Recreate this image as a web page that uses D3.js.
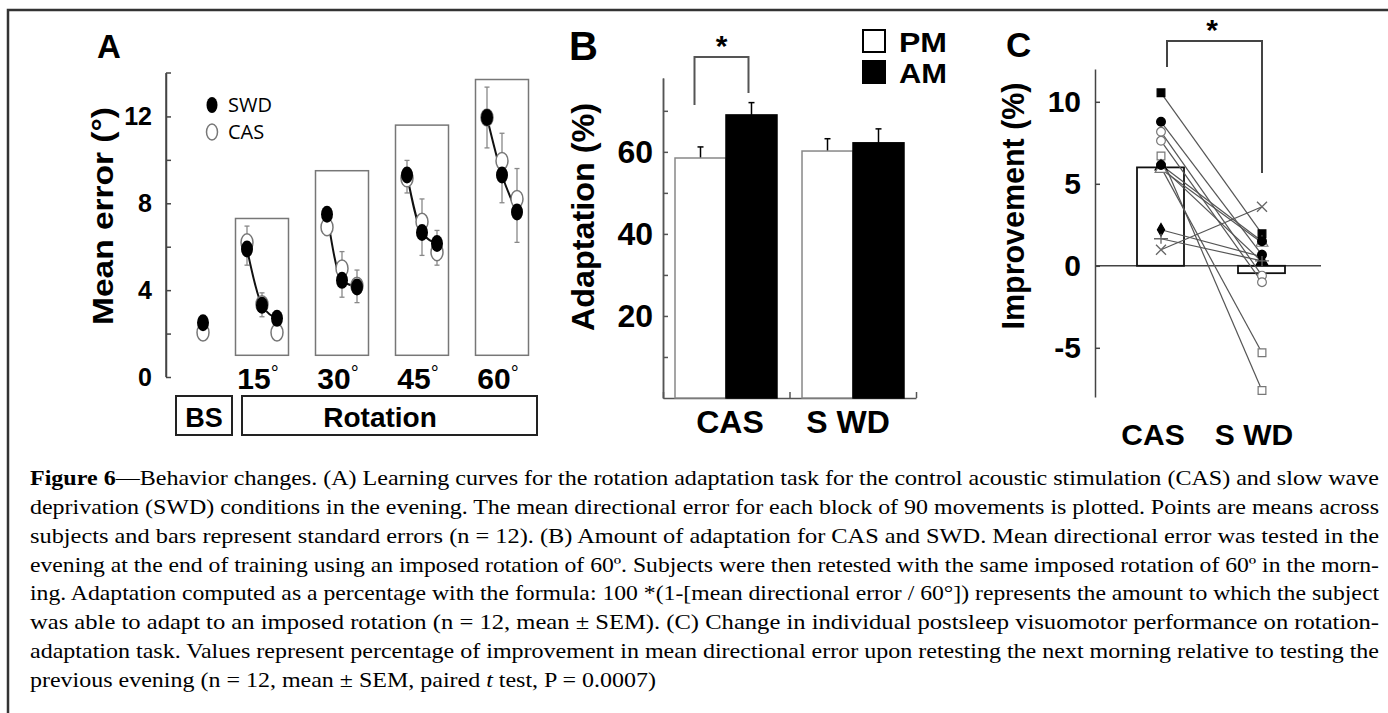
<!DOCTYPE html>
<html><head><meta charset="utf-8">
<script src="https://cdn.jsdelivr.net/npm/d3@7"></script>
<style>body{margin:0;background:#fff}svg{display:block}</style>
</head><body>
<svg id="c" width="1388" height="713"></svg>
<script>
// ---------- Panel A data ----------
const blocksA = ["BS", "15", "30", "45", "60"];
const swdA = [[2.5], [5.9, 3.3, 2.7], [7.5, 4.45, 4.15], [9.3, 6.65, 6.15], [11.95, 9.3, 7.6]];
const casA = [[2.05], [6.2, 3.35, 2.05], [6.9, 5.0, 4.2], [9.15, 7.15, 5.75], [11.95, 9.95, 8.2]];
const semA = [[0.3], [0.9, 0.55, 0.4], [0.6, 1.05, 0.75], [0.75, 1.3, 0.8], [1.4, 1.6, 1.7]];
const boxTopA = [null, 7.3, 9.5, 11.6, 13.7];
const yTicksA = [0, 4, 8, 12];
const yMinorA = [2, 6, 10];
const legendA = ["SWD", "CAS"];

// ---------- Panel B data ----------
const catsB = ["CAS", "S WD"];
const groupsB = ["PM", "AM"];
const pmB = [58.5, 60.2];
const amB = [69.0, 62.2];
const pmErrB = [2.7, 3.0];
const amErrB = [3.0, 3.4];
const yTicksB = [20, 40, 60];
const yMinorB = [10, 30, 50, 70];

// ---------- Panel C data ----------
const catsC = ["CAS", "S WD"];
const meanC = [6.0, -0.45];
const casC = [10.55, 8.78, 8.17, 7.62, 6.7, 6.0, 6.05, 5.9, 6.15, 2.2, 1.65, 0.98];
const swdC = [1.95, 0.67, -0.6, -1.0, -7.6, -5.3, 0.25, 1.4, 1.5, 0.55, 0.3, 3.6];
const yTicksC = [-5, 0, 5, 10];

// ---------- Caption ----------
const captionLines = [
  [["Figure 6", "b"], ["—Behavior changes. (A) Learning curves for the rotation adaptation task for the control acoustic stimulation (CAS) and slow wave", ""]],
  [["deprivation (SWD) conditions in the evening. The mean directional error for each block of 90 movements is plotted. Points are means across", ""]],
  [["subjects and bars represent standard errors (n = 12). (B) Amount of adaptation for CAS and SWD. Mean directional error was tested in the", ""]],
  [["evening at the end of training using an imposed rotation of 60º. Subjects were then retested with the same imposed rotation of 60º in the morn-", ""]],
  [["ing. Adaptation computed as a percentage with the formula: 100 *(1-[mean directional error / 60°]) represents the amount to which the subject", ""]],
  [["was able to adapt to an imposed rotation (n = 12, mean ± SEM). (C) Change in individual postsleep visuomotor performance on rotation-", ""]],
  [["adaptation task. Values represent percentage of improvement in mean directional error upon retesting the next morning relative to testing the", ""]],
  [["previous evening (n = 12, mean ± SEM, paired ", ""], ["t", "i"], [" test, P = 0.0007)", ""]]
];

// ================= drawing =================
const svg = d3.select("#c");
const SANS = "'Liberation Sans', Arial, sans-serif";
svg.append("rect").attr("width", 1388).attr("height", 713).attr("fill", "#fff");
svg.append("path").attr("d", "M8,713 V10 H1388").attr("fill", "none").attr("stroke", "#333").attr("stroke-width", 2.5);

function styleAxis(g, col) {
  g.selectAll("path.domain").attr("stroke", col).attr("stroke-width", 1.5);
  g.selectAll(".tick line").attr("stroke", col).attr("stroke-width", 1.5);
  g.selectAll("text").attr("font-family", SANS).attr("font-weight", "bold").attr("fill", "#000");
}

// ---------- Panel A ----------
const yA = d3.scaleLinear().domain([0, 14]).range([377, 73]);
const xBlock = d3.scaleLinear().domain([1, 4]).range([262, 502]);
const blockX = i => i === 0 ? 203 : xBlock(i);
const ptX = (i, j, n) => blockX(i) + (j - (n - 1) / 2) * 15;

const gA = svg.append("g");
const axA = gA.append("g").attr("transform", "translate(166,0)")
  .call(d3.axisLeft(yA).tickValues(yTicksA).tickSizeInner(-5).tickSizeOuter(0).tickPadding(14));
axA.selectAll("text").attr("font-size", 25);
styleAxis(axA, "#444");
const axAm = gA.append("g").attr("transform", "translate(166,0)")
  .call(d3.axisLeft(yA).tickValues(yMinorA).tickSizeInner(-5).tickSizeOuter(0).tickFormat(""));
styleAxis(axAm, "#444");
axAm.select("path.domain").remove();
gA.append("line").attr("x1", 166).attr("x2", 166).attr("y1", yA(14)).attr("y2", yA(0)).attr("stroke", "#444").attr("stroke-width", 1.5);
gA.append("line").attr("x1", 166).attr("x2", 171).attr("y1", yA(14)).attr("y2", yA(14)).attr("stroke", "#444").attr("stroke-width", 1.5);

blocksA.forEach((b, i) => {
  if (boxTopA[i] == null) return;
  gA.append("rect").attr("x", blockX(i) - 26.5).attr("width", 53)
    .attr("y", yA(boxTopA[i])).attr("height", yA(1) - yA(boxTopA[i]))
    .attr("fill", "none").attr("stroke", "#777").attr("stroke-width", 1.5);
  const t = gA.append("text").attr("x", blockX(i) - 4).attr("y", 389).attr("text-anchor", "middle")
    .attr("font-family", SANS).attr("font-weight", "bold").attr("font-size", 30);
  t.append("tspan").text(b);
  t.append("tspan").text("°").attr("font-size", 20).attr("dy", -9).attr("font-weight", "normal");
});
swdA.forEach((arr, i) => arr.forEach((v, j) => {
  const x = ptX(i, j, arr.length);
  const c = (v + casA[i][j]) / 2, e = semA[i][j];
  gA.append("line").attr("x1", x).attr("x2", x).attr("y1", yA(c + e)).attr("y2", yA(c - e)).attr("stroke", "#888").attr("stroke-width", 1.3);
  [c + e, c - e].forEach(w => gA.append("line").attr("x1", x - 2.5).attr("x2", x + 2.5).attr("y1", yA(w)).attr("y2", yA(w)).attr("stroke", "#888").attr("stroke-width", 1.3));
}));
const lineA = d3.line().x(d => d[0]).y(d => yA(d[1])).curve(d3.curveMonotoneX);
swdA.forEach((arr, i) => {
  if (arr.length < 2) return;
  gA.append("path").attr("d", lineA(arr.map((v, j) => [ptX(i, j, arr.length), v])))
    .attr("fill", "none").attr("stroke", "#111").attr("stroke-width", 2);
});
casA.forEach((arr, i) => arr.forEach((v, j) => {
  gA.append("ellipse").attr("cx", ptX(i, j, arr.length)).attr("cy", yA(v)).attr("rx", 6).attr("ry", 8.5)
    .attr("fill", "#fff").attr("stroke", "#777").attr("stroke-width", 1.5);
}));
swdA.forEach((arr, i) => arr.forEach((v, j) => {
  gA.append("ellipse").attr("cx", ptX(i, j, arr.length)).attr("cy", yA(v)).attr("rx", 6).attr("ry", 8.5)
    .attr("fill", "#000");
}));
legendA.forEach((name, k) => {
  const y = 105 + k * 27;
  gA.append("ellipse").attr("cx", 212).attr("cy", y).attr("rx", 5.5).attr("ry", 8)
    .attr("fill", k === 0 ? "#000" : "#fff").attr("stroke", k === 0 ? "none" : "#777").attr("stroke-width", 1.5);
  gA.append("text").attr("x", 228).attr("y", y + 7).text(name)
    .attr("font-family", "'Open Sans', 'Noto Sans', sans-serif").attr("font-size", 20);
});
gA.append("text").attr("x", 97).attr("y", 58).text("A").attr("font-family", SANS).attr("font-weight", "bold").attr("font-size", 33);
gA.append("text").attr("transform", "translate(113,216) rotate(-90)").attr("text-anchor", "middle")
  .text("Mean error (°)").attr("font-family", SANS).attr("font-weight", "bold").attr("font-size", 30)
  .attr("textLength", 218).attr("lengthAdjust", "spacingAndGlyphs");
gA.append("rect").attr("x", 176).attr("y", 396).attr("width", 56).attr("height", 39).attr("fill", "none").attr("stroke", "#222").attr("stroke-width", 2);
gA.append("rect").attr("x", 242).attr("y", 396).attr("width", 295).attr("height", 39).attr("fill", "none").attr("stroke", "#222").attr("stroke-width", 2);
gA.append("text").attr("x", 204).attr("y", 427).attr("text-anchor", "middle").text("BS").attr("font-family", SANS).attr("font-weight", "bold").attr("font-size", 27);
gA.append("text").attr("x", 380).attr("y", 427).attr("text-anchor", "middle").text("Rotation").attr("font-family", SANS).attr("font-weight", "bold").attr("font-size", 28);

// ---------- Panel B ----------
const yB = d3.scaleLinear().domain([0, 78]).range([398, 78]);
const xB = d3.scaleBand().domain(catsB).range([663, 916]).paddingInner(0.197).paddingOuter(0.0945);
const xSub = d3.scaleBand().domain(groupsB).range([0, xB.bandwidth()]);
const gB = svg.append("g");
const axB = gB.append("g").attr("transform", "translate(663,0)")
  .call(d3.axisLeft(yB).tickValues(yTicksB).tickSizeInner(-5).tickSizeOuter(0).tickPadding(10));
axB.selectAll("text").attr("font-size", 32);
styleAxis(axB, "#555");
const axBm = gB.append("g").attr("transform", "translate(663,0)")
  .call(d3.axisLeft(yB).tickValues(yMinorB).tickSizeInner(-5).tickSizeOuter(0).tickFormat(""));
styleAxis(axBm, "#555");
const xBl = d3.scaleLinear().domain([0, 2]).range([663, 916]);
const axBx = gB.append("g").attr("transform", "translate(0,398)")
  .call(d3.axisBottom(xBl).tickValues([0, 1, 2]).tickSizeInner(-6).tickSizeOuter(0).tickFormat(""));
styleAxis(axBx, "#555");

catsB.forEach((c, i) => {
  const x0 = xB(c);
  [[pmB[i], pmErrB[i], "PM"], [amB[i], amErrB[i], "AM"]].forEach(([v, e, g]) => {
    const x = x0 + xSub(g), w = xSub.bandwidth();
    gB.append("line").attr("x1", x + w / 2).attr("x2", x + w / 2).attr("y1", yB(v)).attr("y2", yB(v + e)).attr("stroke", "#000").attr("stroke-width", 1.5);
    gB.append("line").attr("x1", x + w / 2 - 3).attr("x2", x + w / 2 + 3).attr("y1", yB(v + e)).attr("y2", yB(v + e)).attr("stroke", "#000").attr("stroke-width", 1.5);
    gB.append("rect").attr("x", x).attr("width", w).attr("y", yB(v)).attr("height", yB(0) - yB(v))
      .attr("fill", g === "PM" ? "#fff" : "#000").attr("stroke", g === "PM" ? "#888" : "#000").attr("stroke-width", 1.5);
  });
  gB.append("text").attr("x", x0 + xB.bandwidth() / 2 + (i === 0 ? 4 : -5)).attr("y", 433).attr("text-anchor", "middle")
    .text(c).attr("font-family", SANS).attr("font-weight", "bold").attr("font-size", 32);
});
const bx1 = xB("CAS") + xSub("PM") + xSub.bandwidth() / 2 - 6, bx2 = xB("CAS") + xSub("AM") + xSub.bandwidth() / 2 - 3;
gB.append("path").attr("d", `M${bx1},105 V57 H${bx2} V93`).attr("fill", "none").attr("stroke", "#555").attr("stroke-width", 2);
gB.append("text").attr("x", (bx1 + bx2) / 2).attr("y", 56).attr("text-anchor", "middle").text("*").attr("font-family", SANS).attr("font-weight", "bold").attr("font-size", 30);
// legend B
groupsB.forEach((g, k) => {
  const y = 29 + k * 31;
  gB.append("rect").attr("x", 863).attr("y", y + 1).attr("width", 22).attr("height", 22)
    .attr("fill", k === 0 ? "#fff" : "#000").attr("stroke", "#000").attr("stroke-width", 2);
  gB.append("text").attr("x", 899).attr("y", y + 23).text(g)
    .attr("font-family", SANS).attr("font-weight", "bold").attr("font-size", 28)
    .attr("textLength", 48).attr("lengthAdjust", "spacingAndGlyphs");
});
gB.append("text").attr("x", 569).attr("y", 60).text("B").attr("font-family", SANS).attr("font-weight", "bold").attr("font-size", 40);
gB.append("text").attr("transform", "translate(594,217) rotate(-90)").attr("text-anchor", "middle")
  .text("Adaptation (%)").attr("font-family", SANS).attr("font-weight", "bold").attr("font-size", 32)
  .attr("textLength", 228).attr("lengthAdjust", "spacingAndGlyphs");

// ---------- Panel C ----------
const yC = d3.scaleLinear().domain([-8, 12]).range([397, 69]);
const xC = d3.scalePoint().domain(catsC).range([1161, 1262]);
const gC = svg.append("g");
const axC = gC.append("g").attr("transform", "translate(1095,0)")
  .call(d3.axisLeft(yC).tickValues(yTicksC).tickSizeInner(-5).tickSizeOuter(0).tickPadding(14));
axC.selectAll("text").attr("font-size", 30);
axC.selectAll(".tick text").text(d => d < 0 ? "-" + Math.abs(d) : d);
styleAxis(axC, "#444");
gC.append("line").attr("x1", 1095).attr("x2", 1321).attr("y1", yC(0)).attr("y2", yC(0)).attr("stroke", "#444").attr("stroke-width", 1.5);
catsC.forEach((c, i) => {
  const v = meanC[i];
  gC.append("rect").attr("x", xC(c) - 24).attr("width", 47).attr("y", yC(Math.max(0, v)))
    .attr("height", Math.abs(yC(v) - yC(0))).attr("fill", i === 0 ? "#fff" : "none").attr("stroke", "#111").attr("stroke-width", 1.8);
  gC.append("text").attr("x", xC(c) - 8).attr("y", 445).attr("text-anchor", "middle").text(c)
    .attr("font-family", SANS).attr("font-weight", "bold").attr("font-size", 30);
});
casC.forEach((v, k) => {
  gC.append("line").attr("x1", xC("CAS")).attr("x2", xC("S WD")).attr("y1", yC(v)).attr("y2", yC(swdC[k]))
    .attr("stroke", "#555").attr("stroke-width", 1.2);
});
const markerC = ["sqF", "ciF", "ciO", "ciO", "sqO", "sqO", "trF", "trO", "ciF", "diF", "plus", "x"];
function drawMarker(g, type, x, y) {
  const sym = {sq: d3.symbolSquare, ci: d3.symbolCircle, tr: d3.symbolTriangle, di: d3.symbolDiamond}[type.slice(0, 2)];
  if (type === "plus") {
    g.append("path").attr("d", `M${x - 7},${y} H${x + 7} M${x},${y - 5} V${y + 5}`).attr("stroke", "#666").attr("stroke-width", 1.3);
    return;
  }
  if (type === "x") {
    g.append("path").attr("d", `M${x - 5},${y - 5} L${x + 5},${y + 5} M${x - 5},${y + 5} L${x + 5},${y - 5}`).attr("stroke", "#666").attr("stroke-width", 1.3);
    return;
  }
  const filled = type.endsWith("F");
  const size = type.startsWith("di") ? 45 : 60;
  g.append("path").attr("d", d3.symbol(sym, size)()).attr("transform", `translate(${x},${y})`)
    .attr("fill", filled ? "#000" : "#fff").attr("stroke", filled ? "#000" : "#777").attr("stroke-width", 1.2);
}
casC.forEach((v, k) => drawMarker(gC, markerC[k], xC("CAS"), yC(v)));
swdC.forEach((v, k) => drawMarker(gC, markerC[k], xC("S WD"), yC(v)));
gC.append("path").attr("d", `M${xC("CAS") + 6},67 V41 H${xC("S WD")} V173`).attr("fill", "none").attr("stroke", "#444").attr("stroke-width", 2);
gC.append("text").attr("x", 1212).attr("y", 40).attr("text-anchor", "middle").text("*").attr("font-family", SANS).attr("font-weight", "bold").attr("font-size", 30);
gC.append("text").attr("x", 1006).attr("y", 57).text("C").attr("font-family", SANS).attr("font-weight", "bold").attr("font-size", 35);
gC.append("text").attr("transform", "translate(1024,206) rotate(-90)").attr("text-anchor", "middle")
  .text("Improvement (%)").attr("font-family", SANS).attr("font-weight", "bold").attr("font-size", 31)
  .attr("textLength", 247).attr("lengthAdjust", "spacingAndGlyphs");

// ---------- Caption ----------
const gT = svg.append("g");
captionLines.forEach((parts, i) => {
  const last = i === captionLines.length - 1;
  const t = gT.append("text").attr("x", 30).attr("y", 485 + i * 28.85)
    .attr("font-family", "'Liberation Serif', 'Times New Roman', serif").attr("font-size", 21.5)
    .attr("textLength", last ? 626 : 1349).attr("lengthAdjust", "spacingAndGlyphs");
  parts.forEach(([s, st]) => {
    const ts = t.append("tspan").text(s);
    if (st === "b") ts.attr("font-weight", "bold");
    if (st === "i") ts.attr("font-style", "italic");
  });
});
</script>
</body></html>
